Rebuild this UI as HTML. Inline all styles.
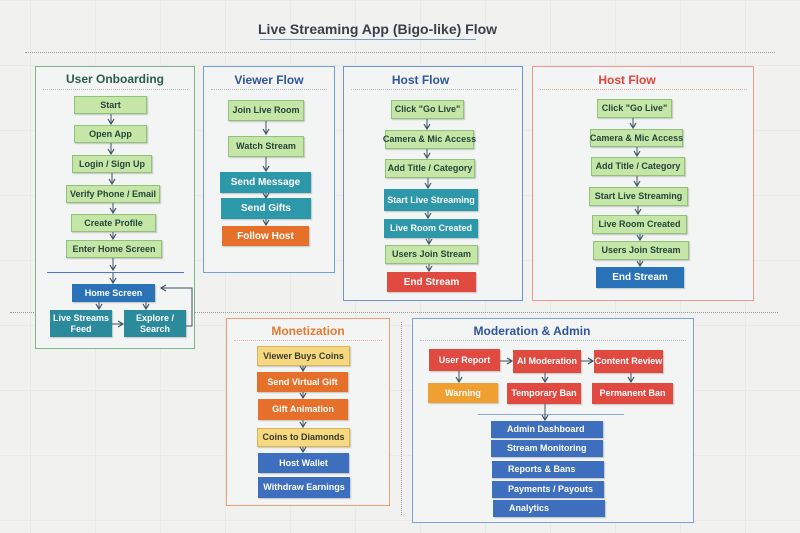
<!DOCTYPE html>
<html><head><meta charset="utf-8"><style>
*{margin:0;padding:0;box-sizing:border-box}
body{width:800px;height:533px;background:#f1f1f0;position:relative;overflow:hidden;font-family:"Liberation Sans",sans-serif;
background-image:linear-gradient(#e9e9e9 1px,transparent 1px),linear-gradient(90deg,#e9e9e9 1px,transparent 1px);background-size:65px 65px;background-position:30px 0}
.p{position:absolute;border:1.5px solid;background:#f3f4f4}
.t{position:absolute;font-weight:bold;font-size:12px;text-align:center;white-space:nowrap}
.d{position:absolute;border-top:1px dotted #bbb;height:0}
.b{position:absolute;display:flex;align-items:center;justify-content:center;text-align:center;font-weight:bold;font-size:9px;line-height:11px;white-space:nowrap;box-shadow:1px 1px 1px rgba(0,0,0,.2)}
.g{background:#c6e6a8;border:1px solid #8fc27a;color:#23463a}
.tl{background:#2d98aa;color:#fff}
.or{background:#e6702a;color:#fff}
.rd{background:#e04a40;color:#fff}
.bl{background:#2a72b8;color:#fff}
.bb{background:#3d6fbe;color:#fff}
.yl{background:#f5d880;border:1px solid #d8b658;color:#3a3a2a}
.ow{background:#f0a030;color:#fff}
svg{position:absolute;left:0;top:0}
</style></head><body>
<div class="t" style="left:258px;top:21px;width:218px;font-size:14px;color:#3a4048">Live Streaming App (Bigo-like) Flow</div>
<div style="position:absolute;left:260px;top:39px;width:216px;height:1px;background:#7f9cc8"></div>
<div class="d" style="left:25px;top:52px;width:750px;border-color:#999"></div>
<div class="d" style="left:10px;top:312px;width:768px;border-color:#999"></div>
<div style="position:absolute;left:401px;top:322px;height:193px;border-left:1px dotted #999"></div>

<div class="p" style="left:35px;top:66px;width:160px;height:283px;border-color:#7db889"></div>
<div class="t" style="left:35px;top:72px;width:160px;color:#2b5e4e">User Onboarding</div>
<div class="d" style="left:43px;top:89px;width:145px"></div>
<div class="p" style="left:203px;top:66px;width:132px;height:207px;border-color:#6fa0d6"></div>
<div class="t" style="left:203px;top:73px;width:132px;color:#2f569c">Viewer Flow</div>
<div class="d" style="left:211px;top:89px;width:116px"></div>
<div class="p" style="left:343px;top:66px;width:180px;height:235px;border-color:#6f94d6"></div>
<div class="t" style="left:343px;top:73px;width:155px;color:#2f569c">Host Flow</div>
<div class="d" style="left:351px;top:89px;width:165px"></div>
<div class="p" style="left:532px;top:66px;width:222px;height:235px;border-color:#ec9a92"></div>
<div class="t" style="left:532px;top:73px;width:190px;color:#e0443c">Host Flow</div>
<div class="d" style="left:540px;top:89px;width:207px;border-color:#e8a8a0"></div>
<div class="p" style="left:226px;top:318px;width:164px;height:188px;border-color:#eda070"></div>
<div class="t" style="left:226px;top:324px;width:164px;color:#e67a30">Monetization</div>
<div class="d" style="left:234px;top:340px;width:148px;border-color:#e8b898"></div>
<div class="p" style="left:412px;top:318px;width:282px;height:205px;border-color:#7fa0d8"></div>
<div class="t" style="left:412px;top:324px;width:240px;color:#2f569c">Moderation &amp; Admin</div>
<div class="d" style="left:420px;top:340px;width:266px"></div>

<div class="b g" style="left:74px;top:96px;width:73px;height:18px">Start</div>
<div class="b g" style="left:74px;top:125px;width:73px;height:18px">Open App</div>
<div class="b g" style="left:72px;top:155px;width:80px;height:18px">Login / Sign Up</div>
<div class="b g" style="left:66px;top:185px;width:94px;height:18px">Verify Phone / Email</div>
<div class="b g" style="left:71px;top:214px;width:85px;height:18px">Create Profile</div>
<div class="b g" style="left:66px;top:240px;width:96px;height:18px">Enter Home Screen</div>
<div style="position:absolute;left:47px;top:272px;width:137px;height:1px;background:#4a78c8"></div>
<div class="b bl" style="left:72px;top:284px;width:83px;height:18px">Home Screen</div>
<div class="b tl" style="left:50px;top:310px;width:62px;height:27px;white-space:normal;background:#2b8a9c">Live Streams<br>Feed</div>
<div class="b tl" style="left:124px;top:310px;width:62px;height:27px;background:#2b8a9c">Explore /<br>Search</div>

<div class="b g" style="left:228px;top:100px;width:76px;height:21px">Join Live Room</div>
<div class="b g" style="left:228px;top:136px;width:76px;height:21px">Watch Stream</div>
<div class="b tl" style="left:220px;top:172px;width:91px;height:21px;font-size:10px">Send Message</div>
<div class="b tl" style="left:221px;top:198px;width:90px;height:21px;font-size:10px">Send Gifts</div>
<div class="b or" style="left:222px;top:226px;width:87px;height:20px;font-size:10px">Follow Host</div>

<div class="b g" style="left:391px;top:100px;width:73px;height:19px">Click "Go Live"</div>
<div class="b g" style="left:385px;top:130px;width:89px;height:19px">Camera &amp; Mic Access</div>
<div class="b g" style="left:385px;top:159px;width:90px;height:19px">Add Title / Category</div>
<div class="b tl" style="left:384px;top:189px;width:94px;height:22px">Start Live Streaming</div>
<div class="b tl" style="left:384px;top:219px;width:94px;height:19px">Live Room Created</div>
<div class="b g" style="left:385px;top:245px;width:93px;height:19px">Users Join Stream</div>
<div class="b rd" style="left:387px;top:272px;width:89px;height:20px;font-size:10px">End Stream</div>

<div class="b g" style="left:597px;top:99px;width:75px;height:19px">Click "Go Live"</div>
<div class="b g" style="left:590px;top:129px;width:93px;height:18px">Camera &amp; Mic Access</div>
<div class="b g" style="left:591px;top:157px;width:94px;height:19px">Add Title / Category</div>
<div class="b g" style="left:589px;top:187px;width:99px;height:19px">Start Live Streaming</div>
<div class="b g" style="left:592px;top:215px;width:95px;height:19px">Live Room Created</div>
<div class="b g" style="left:593px;top:241px;width:96px;height:19px">Users Join Stream</div>
<div class="b bl" style="left:596px;top:267px;width:88px;height:21px;font-size:10px">End Stream</div>

<div class="b yl" style="left:257px;top:346px;width:93px;height:20px">Viewer Buys Coins</div>
<div class="b or" style="left:257px;top:372px;width:91px;height:20px">Send Virtual Gift</div>
<div class="b or" style="left:258px;top:399px;width:90px;height:21px">Gift Animation</div>
<div class="b yl" style="left:257px;top:428px;width:93px;height:19px">Coins to Diamonds</div>
<div class="b bb" style="left:258px;top:453px;width:91px;height:20px">Host Wallet</div>
<div class="b bb" style="left:258px;top:477px;width:92px;height:21px">Withdraw Earnings</div>

<div class="b rd" style="left:429px;top:349px;width:71px;height:22px">User Report</div>
<div class="b rd" style="left:513px;top:350px;width:68px;height:23px">AI Moderation</div>
<div class="b rd" style="left:594px;top:350px;width:69px;height:23px">Content Review</div>
<div class="b ow" style="left:428px;top:383px;width:70px;height:20px">Warning</div>
<div class="b rd" style="left:507px;top:383px;width:74px;height:21px">Temporary Ban</div>
<div class="b rd" style="left:592px;top:383px;width:81px;height:21px">Permanent Ban</div>
<div style="position:absolute;left:478px;top:414px;width:146px;height:1px;background:#8aa8d8"></div>
<div class="b bb" style="left:491px;top:421px;width:112px;height:17px;justify-content:flex-start;padding-left:16px">Admin Dashboard</div>
<div class="b bb" style="left:491px;top:440px;width:112px;height:17px;justify-content:flex-start;padding-left:16px">Stream Monitoring</div>
<div class="b bb" style="left:492px;top:461px;width:112px;height:17px;justify-content:flex-start;padding-left:16px">Reports &amp; Bans</div>
<div class="b bb" style="left:492px;top:481px;width:112px;height:17px;justify-content:flex-start;padding-left:16px">Payments / Payouts</div>
<div class="b bb" style="left:493px;top:500px;width:112px;height:17px;justify-content:flex-start;padding-left:16px">Analytics</div>

<svg width="800" height="533" fill="none" stroke="#3d5560" stroke-width="1">
<defs><marker id="a" markerUnits="userSpaceOnUse" markerWidth="8" markerHeight="8" refX="6" refY="4" orient="auto"><path d="M1,1 L6,4 L1,7" stroke="#3d5560" stroke-width="1.2" fill="none"/></marker></defs>
<g marker-end="url(#a)">
<path d="M111 114V124"/><path d="M111 143V154"/><path d="M112 173V184"/><path d="M113 203V213"/><path d="M113 232V239"/><path d="M113 258V270"/><path d="M113 273V283"/><path d="M99 302V309"/><path d="M146 302V309"/><path d="M112 324H123"/>
<path d="M186 326H192V288H161"/>
<path d="M266 121V134"/><path d="M266 157V171"/><path d="M266 193V198"/><path d="M266 219V225"/>
<path d="M427 119V129"/><path d="M427 149V158"/><path d="M428 178V188"/><path d="M428 211V218"/><path d="M429 238V244"/><path d="M429 264V271"/>
<path d="M633 118V128"/><path d="M637 147V156"/><path d="M637 176V186"/><path d="M638 206V214"/><path d="M640 234V240"/><path d="M640 260V266"/>
<path d="M303 366V371"/><path d="M303 392V398"/><path d="M303 420V427"/><path d="M303 447V452"/>
<path d="M459 371V382"/><path d="M500 361H512"/><path d="M581 361H593"/><path d="M545 373V382"/><path d="M631 373V382"/><path d="M545 404V420"/>
</g></svg>
</body></html>
